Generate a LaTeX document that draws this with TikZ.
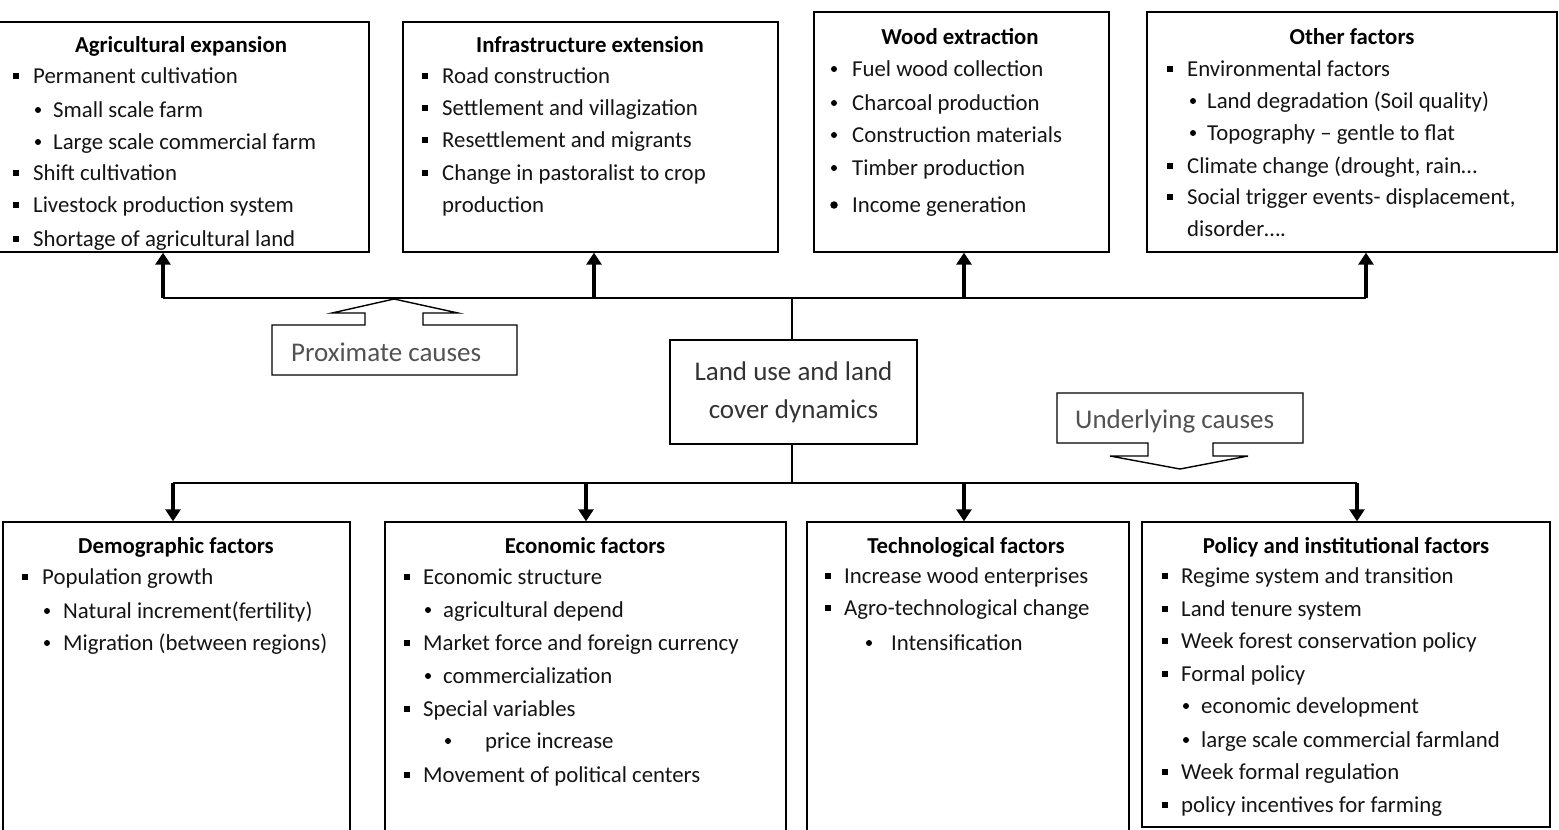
\documentclass[tikz,border=0pt]{standalone}
\usepackage{fontspec}
\setmainfont{Carlito}
\usetikzlibrary{arrows.meta}
\tikzset{
  fbox/.style={draw, line width=1.4pt, inner sep=0pt, rectangle},
  ttl/.style={anchor=base, inner sep=0pt, font=\fontsize{22.8}{26}\selectfont\bfseries},
  itm/.style={anchor=base west, inner sep=0pt, font=\fontsize{22.8}{26}\selectfont, text=black!92},
  sqb/.style={rectangle, fill=black, minimum size=5.5pt, inner sep=0pt},
  rdb/.style={circle, fill=black, minimum size=6pt, inner sep=0pt},
  bigb/.style={circle, fill=black, minimum size=7.5pt, inner sep=0pt},
  lbl/.style={anchor=base west, inner sep=0pt, font=\fontsize{27}{30}\selectfont, text=black!68},
  conn/.style={line width=2pt},
  arr/.style={line width=3.8pt, -{Triangle[width=15pt,length=12pt]}},
  callout/.style={draw, line width=1.4pt, fill=white, line join=miter},
}
% square-bullet item: name, bullet x, text x, baseline y, text
\newcommand\Ia[5]{\node[sqb] (#1b) at (#2,#4-7) {}; \node[itm] (#1) at (#3,#4) {#5};}
% round-bullet item
\newcommand\Ib[5]{\node[rdb] (#1b) at (#2,#4-7) {}; \node[itm] (#1) at (#3,#4) {#5};}
% plain continuation line
\newcommand\Ic[4]{\node[itm] (#1) at (#2,#3) {#4};}
\begin{document}
\begin{tikzpicture}[x=1pt,y=-1pt]
\useasboundingbox (0,0) rectangle (1559,830);

% ---------- top boxes ----------
\node[fbox, minimum width=371pt, minimum height=230pt] (agri) at (183.5,137) {};
\node[fbox, minimum width=375pt, minimum height=230pt] (infra) at (590.5,137) {};
\node[fbox, minimum width=295pt, minimum height=240pt] (wood) at (961.5,132) {};
\node[fbox, minimum width=410pt, minimum height=240pt] (other) at (1352,132) {};

% Agricultural expansion
\begin{scope}
\clip (-5,23) rectangle (368,250);
\node[ttl] (agrit) at (181,52) {Agricultural expansion};
\Ia{a1}{16}{33}{83}{Permanent cultivation}
\Ib{a2}{38}{53}{117}{Small scale farm}
\Ib{a3}{38}{53}{149}{Large scale commercial farm}
\Ia{a4}{16}{33}{180}{Shift cultivation}
\Ia{a5}{16}{33}{212}{Livestock production system}
\Ia{a6}{16}{33}{246}{Shortage of agricultural land}
\end{scope}

% Infrastructure extension
\node[ttl] (infrat) at (590,52) {Infrastructure extension};
\Ia{i1}{425}{442}{83}{Road construction}
\Ia{i2}{425}{442}{115}{Settlement and villagization}
\Ia{i3}{425}{442}{147}{Resettlement and migrants}
\Ia{i4}{425}{442}{180}{Change in pastoralist to crop}
\Ic{i5}{442}{212}{production}

% Wood extraction
\node[ttl] (woodt) at (960,44) {Wood extraction};
\Ib{w1}{834}{852}{76}{Fuel wood collection}
\Ib{w2}{834}{852}{110}{Charcoal production}
\Ib{w3}{834}{852}{142}{Construction materials}
\Ib{w4}{834}{852}{175}{Timber production}
\node[bigb] (w5b) at (834,205) {};
\Ic{w5}{852}{212}{Income generation}

% Other factors
\node[ttl] (othert) at (1352,44) {Other factors};
\Ia{o1}{1170}{1187}{76}{Environmental factors}
\Ib{o2}{1193}{1207}{108}{Land degradation (Soil quality)}
\Ib{o3}{1193}{1207}{140}{Topography – gentle to flat}
\Ia{o4}{1170}{1187}{173}{Climate change (drought, rain…}
\Ia{o5}{1170}{1187}{204}{Social trigger events- displacement,}
\Ic{o6}{1187}{236}{disorder….}

% ---------- centre ----------
\node[fbox, minimum width=247pt, minimum height=104pt, align=center,
      font=\fontsize{27}{38}\selectfont, text=black!80] (lulc) at (793.5,392)
      {Land use and land\\cover dynamics};

\coordinate (tl) at (163,298);
\coordinate (tr) at (1366,298);
\coordinate (tm) at (792,298);
\coordinate (bl) at (173,483);
\coordinate (br) at (1357,483);
\coordinate (bm) at (792,483);

\draw[conn] (tl) -- (tr);
\draw[conn] (tm) -- (lulc.north -| tm);
\draw[conn] (lulc.south -| bm) -- (bm);
\draw[conn] (bl) -- (br);

\coordinate (u1) at (163,298);
\coordinate (u2) at (594,298);
\coordinate (u3) at (964,298);
\coordinate (u4) at (1366,298);
\draw[arr] (u1) -- (agri.south -| u1);
\draw[arr] (u2) -- (infra.south -| u2);
\draw[arr] (u3) -- (wood.south -| u3);
\draw[arr] (u4) -- (other.south -| u4);

% ---------- callouts ----------
\draw[callout] (365,325) -- (272,325) -- (272,375) -- (517,375) -- (517,325)
  -- (423,325) -- (423,313) -- (458,313) -- (394,299) -- (332,313) -- (365,313) -- cycle;
\node[lbl] (prox) at (291,361) {Proximate causes};

\draw[callout] (1148,443) -- (1057,443) -- (1057,393) -- (1303,393) -- (1303,443)
  -- (1213,443) -- (1213,456) -- (1248,456) -- (1180,469) -- (1110,456) -- (1148,456) -- cycle;
\node[lbl] (under) at (1075,428) {Underlying causes};

% ---------- bottom boxes ----------
\node[fbox, minimum width=347pt, minimum height=318pt] (demo) at (176.5,681) {};
\node[fbox, minimum width=401pt, minimum height=318pt] (econ) at (585.5,681) {};
\node[fbox, minimum width=322pt, minimum height=318pt] (tech) at (968,681) {};
\node[fbox, minimum width=408pt, minimum height=305pt] (poli) at (1346,674.5) {};

\coordinate (d1) at (173,483);
\coordinate (d2) at (586,483);
\coordinate (d3) at (964,483);
\coordinate (d4) at (1357,483);
\draw[arr] (d1) -- (demo.north -| d1);
\draw[arr] (d2) -- (econ.north -| d2);
\draw[arr] (d3) -- (tech.north -| d3);
\draw[arr] (d4) -- (poli.north -| d4);

% Demographic
\node[ttl] (demot) at (176,553) {Demographic factors};
\Ia{d1i}{25}{42}{584}{Population growth}
\Ib{d2i}{47}{63}{618}{Natural increment(fertility)}
\Ib{d3i}{47}{63}{650}{Migration (between regions)}

% Economic
\node[ttl] (econt) at (585,553) {Economic factors};
\Ia{e1}{407}{423}{584}{Economic structure}
\Ib{e2}{428}{443}{617}{agricultural depend}
\Ia{e3}{407}{423}{650}{Market force and foreign currency}
\Ib{e4}{428}{443}{683}{commercialization}
\Ia{e5}{407}{423}{716}{Special variables}
\Ib{e6}{448}{485}{748}{price increase}
\Ia{e7}{407}{423}{782}{Movement of political centers}

% Technological
\node[ttl] (techt) at (966,553) {Technological factors};
\Ia{t1}{828}{844}{583}{Increase wood enterprises}
\Ia{t2}{828}{844}{615}{Agro-technological change}
\Ib{t3}{869}{891}{650}{Intensification}

% Policy
\node[ttl] (polit) at (1346,553) {Policy and institutional factors};
\Ia{p1}{1165}{1181}{583}{Regime system and transition}
\Ia{p2}{1165}{1181}{616}{Land tenure system}
\Ia{p3}{1165}{1181}{648}{Week forest conservation policy}
\Ia{p4}{1165}{1181}{681}{Formal policy}
\Ib{p5}{1186}{1201}{713}{economic development}
\Ib{p6}{1186}{1201}{747}{large scale commercial farmland}
\Ia{p7}{1165}{1181}{779}{Week formal regulation}
\Ia{p8}{1165}{1181}{812}{policy incentives for farming}
\end{tikzpicture}
\end{document}
